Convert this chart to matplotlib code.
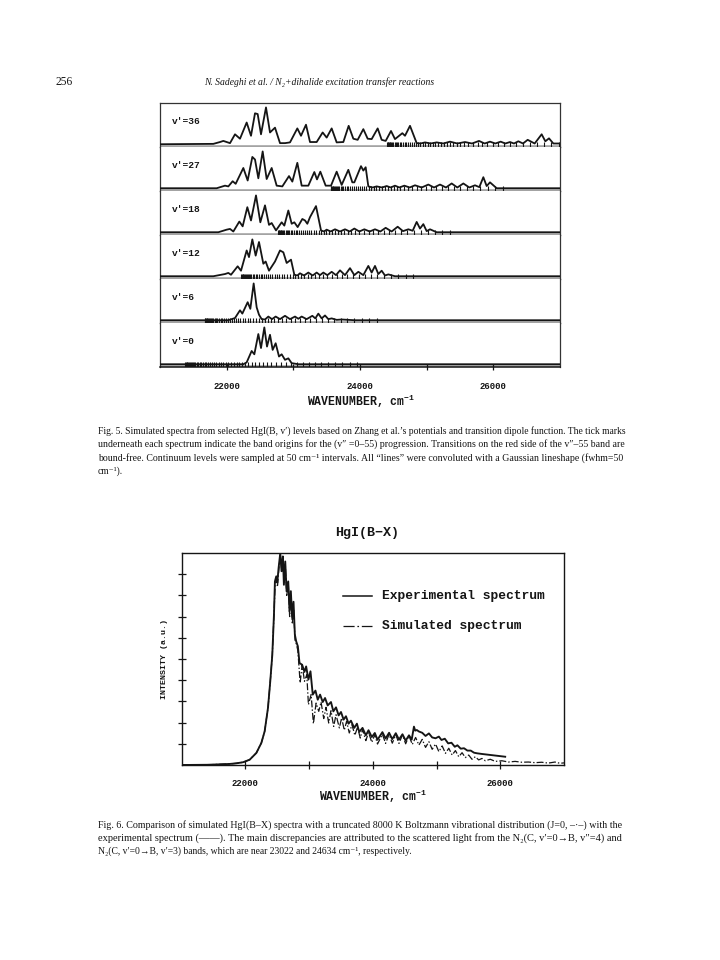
import matplotlib
matplotlib.use("Agg")
import matplotlib.pyplot as plt
from matplotlib.lines import Line2D

# ------------------------------------------------------------------ DATA
# Fig. 5 : simulated spectra (wavenumber cm-1, relative intensity)
panel_labels = ["v'=36", "v'=27", "v'=18", "v'=12", "v'=6", "v'=0"]

v36 = [(21000, 0.0), (21800, 0.01), (21900, 0.06), (21950, 0.09), (22050, 0.03),
       (22125, 0.27), (22200, 0.15), (22300, 0.59), (22365, 0.23), (22425, 0.84),
       (22465, 0.82), (22515, 0.27), (22590, 1.0), (22650, 0.32), (22725, 0.45),
       (22800, 0.03), (22875, 0.03), (22950, 0.05), (23060, 0.43), (23115, 0.23),
       (23190, 0.53), (23250, 0.06), (23350, 0.06), (23440, 0.32), (23500, 0.18),
       (23575, 0.43), (23650, 0.05), (23750, 0.06), (23830, 0.50), (23900, 0.15),
       (23965, 0.12), (24050, 0.41), (24115, 0.15), (24175, 0.14), (24265, 0.43),
       (24325, 0.12), (24385, 0.09), (24465, 0.36), (24525, 0.14), (24635, 0.30),
       (24675, 0.23), (24750, 0.50), (24850, 0.03), (24910, 0.02), (24975, 0.05),
       (25060, 0.02), (25150, 0.05), (25250, 0.02), (25350, 0.07), (25460, 0.02),
       (25575, 0.06), (25680, 0.02), (25785, 0.09), (25870, 0.02), (25950, 0.07),
       (26030, 0.02), (26110, 0.07), (26180, 0.02), (26250, 0.06), (26310, 0.02),
       (26375, 0.08), (26445, 0.02), (26515, 0.12), (26620, 0.02), (26725, 0.27),
       (26780, 0.08), (26835, 0.16), (26900, 0.02), (27000, 0.02)]

v27 = [(21000, 0.0), (21850, 0.0), (21975, 0.07), (22025, 0.05), (22090, 0.19),
       (22135, 0.12), (22250, 0.55), (22315, 0.21), (22385, 0.85), (22425, 0.78),
       (22475, 0.27), (22540, 1.0), (22600, 0.25), (22675, 0.55), (22750, 0.07),
       (22835, 0.05), (22935, 0.33), (22985, 0.18), (23060, 0.69), (23125, 0.07),
       (23225, 0.07), (23315, 0.44), (23355, 0.24), (23405, 0.45), (23485, 0.07),
       (23565, 0.07), (23650, 0.45), (23725, 0.09), (23825, 0.50), (23885, 0.16),
       (23915, 0.16), (24015, 0.60), (24050, 0.48), (24085, 0.57), (24125, 0.05),
       (24190, 0.02), (24250, 0.05), (24330, 0.02), (24400, 0.06), (24460, 0.02),
       (24525, 0.07), (24590, 0.02), (24665, 0.07), (24745, 0.02), (24825, 0.08),
       (24925, 0.02), (25025, 0.10), (25110, 0.02), (25200, 0.10), (25290, 0.02),
       (25375, 0.13), (25460, 0.02), (25550, 0.13), (25640, 0.02), (25725, 0.08),
       (25790, 0.03), (25850, 0.30), (25900, 0.06), (25950, 0.16), (26050, 0.0),
       (27000, 0.0)]

v18 = [(21000, 0.0), (21875, 0.0), (22000, 0.07), (22050, 0.09), (22100, 0.02),
       (22190, 0.29), (22240, 0.16), (22310, 0.68), (22365, 0.32), (22440, 1.0),
       (22505, 0.27), (22575, 0.73), (22635, 0.20), (22675, 0.25), (22740, 0.05),
       (22825, 0.27), (22865, 0.18), (22925, 0.59), (22975, 0.23), (23015, 0.27),
       (23065, 0.14), (23135, 0.36), (23175, 0.32), (23210, 0.23), (23250, 0.41),
       (23340, 0.71), (23415, 0.05), (23460, 0.02), (23500, 0.07), (23560, 0.02),
       (23625, 0.08), (23700, 0.02), (23775, 0.08), (23845, 0.02), (23915, 0.10),
       (23990, 0.02), (24065, 0.08), (24145, 0.02), (24225, 0.08), (24305, 0.02),
       (24385, 0.12), (24475, 0.02), (24565, 0.15), (24645, 0.03), (24725, 0.08),
       (24790, 0.04), (24850, 0.28), (24900, 0.10), (24950, 0.22), (25000, 0.03),
       (25050, 0.08), (25150, 0.0), (27000, 0.0)]

v12 = [(21000, 0.0), (21800, 0.0), (21975, 0.06), (22025, 0.09), (22065, 0.04),
       (22165, 0.27), (22215, 0.15), (22300, 0.70), (22335, 0.52), (22385, 1.0),
       (22435, 0.56), (22485, 0.93), (22550, 0.34), (22585, 0.40), (22635, 0.15),
       (22725, 0.40), (22800, 0.70), (22850, 0.65), (22900, 0.36), (22965, 0.45),
       (23015, 0.04), (23060, 0.02), (23100, 0.08), (23160, 0.02), (23225, 0.10),
       (23290, 0.02), (23350, 0.10), (23400, 0.03), (23450, 0.10), (23510, 0.03),
       (23575, 0.12), (23640, 0.03), (23700, 0.16), (23775, 0.03), (23850, 0.22),
       (23915, 0.03), (23975, 0.12), (24050, 0.03), (24125, 0.28), (24175, 0.10),
       (24225, 0.28), (24275, 0.06), (24325, 0.15), (24375, 0.02), (24425, 0.05),
       (24525, 0.0), (27000, 0.0)]

v6 = [(21000, 0.0), (22025, 0.0), (22125, 0.06), (22200, 0.27), (22235, 0.18),
      (22315, 0.49), (22355, 0.31), (22405, 1.0), (22450, 0.35), (22485, 0.15),
      (22525, 0.03), (22575, 0.02), (22625, 0.10), (22680, 0.03), (22735, 0.10),
      (22800, 0.03), (22875, 0.12), (22950, 0.03), (23025, 0.10), (23075, 0.04),
      (23125, 0.10), (23200, 0.03), (23285, 0.12), (23330, 0.05), (23375, 0.18),
      (23425, 0.05), (23475, 0.13), (23525, 0.03), (23575, 0.05), (23650, 0.01),
      (23725, 0.02), (23925, 0.0), (27000, 0.0)]

v0 = [(21000, 0.0), (22250, 0.0), (22300, 0.05), (22375, 0.36), (22415, 0.27),
      (22475, 0.82), (22515, 0.44), (22565, 1.0), (22605, 0.48), (22650, 0.80),
      (22690, 0.39), (22735, 0.57), (22785, 0.21), (22825, 0.27), (22875, 0.12),
      (22925, 0.16), (22975, 0.03), (23075, 0.0), (27000, 0.0)]

# band origins (v''=0..55): position of v''=0 for each panel and the
# offsets of the successive v'' origins below it (cm-1)
band_origin_v0 = [26985, 26140, 25350, 24800, 24250, 23960]
tick_offsets = [0, 115, 227, 335, 439, 540, 638, 732, 822, 909, 993, 1073, 1149,
                1222, 1292, 1358, 1420, 1479, 1535, 1587, 1635, 1681, 1726, 1770,
                1812, 1854, 1894, 1933, 1971, 2008, 2044, 2079, 2113, 2145, 2177,
                2207, 2236, 2264, 2291, 2317, 2342, 2366, 2388, 2410, 2430, 2449,
                2467, 2484, 2500, 2515, 2528, 2541, 2552, 2562, 2571, 2579]

# Fig. 6 : experimental and simulated HgI(B-X) spectra (cm-1, a.u.)
experimental = [
    (21000, 0.0), (21400, 0.01), (21755, 0.05), (21859, 0.08), (21963, 0.13),
    (22067, 0.25), (22172, 0.57), (22250, 1.04), (22302, 1.59), (22354, 2.69),
    (22390, 3.95), (22422, 5.20), (22448, 7.09), (22463, 8.66), (22484, 8.90),
    (22500, 8.60), (22521, 9.30), (22547, 10.0), (22567, 9.14), (22588, 9.84),
    (22604, 8.50), (22625, 9.60), (22646, 8.20), (22672, 8.66), (22692, 7.25),
    (22713, 8.20), (22734, 6.93), (22755, 7.70), (22776, 6.15), (22797, 5.83),
    (22823, 5.60), (22849, 4.81), (22890, 4.73), (22927, 4.39), (22953, 4.65),
    (22989, 4.03), (23021, 4.42), (23057, 3.32), (23099, 3.51), (23135, 3.08),
    (23172, 3.32), (23213, 2.97), (23250, 3.16), (23291, 2.81), (23343, 2.97),
    (23380, 2.53), (23422, 2.72), (23463, 2.34), (23500, 2.50), (23541, 2.14),
    (23578, 2.30), (23619, 1.95), (23656, 2.09), (23708, 1.75), (23750, 1.95),
    (23786, 1.56), (23838, 1.75), (23890, 1.40), (23932, 1.64), (23984, 1.32),
    (24031, 1.51), (24073, 1.19), (24150, 1.55), (24200, 1.25), (24255, 1.52),
    (24305, 1.22), (24360, 1.50), (24410, 1.20), (24465, 1.45), (24515, 1.15),
    (24567, 1.40), (24610, 1.20), (24645, 1.81), (24665, 1.62), (24690, 1.65),
    (24723, 1.58), (24775, 1.52), (24827, 1.37), (24880, 1.49), (24931, 1.30),
    (24984, 1.26), (25036, 1.34), (25077, 1.18), (25129, 1.24), (25182, 1.02),
    (25234, 1.05), (25286, 0.86), (25327, 0.93), (25379, 0.77), (25431, 0.79),
    (25484, 0.68), (25536, 0.68), (25588, 0.58), (25640, 0.55), (25713, 0.52),
    (26077, 0.39)]

simulated = [
    (21000, 0.0), (21400, 0.01), (21755, 0.05), (21859, 0.08), (21963, 0.13),
    (22067, 0.25), (22172, 0.57), (22250, 1.04), (22302, 1.59), (22354, 2.69),
    (22390, 3.95), (22422, 5.20), (22448, 7.09), (22466, 8.50), (22486, 8.75),
    (22503, 8.40), (22524, 9.20), (22547, 9.90), (22567, 9.30), (22590, 9.60),
    (22606, 8.70), (22627, 9.40), (22648, 8.00), (22674, 8.50), (22694, 7.00),
    (22715, 7.90), (22736, 6.70), (22757, 7.30), (22778, 5.90), (22800, 5.70),
    (22823, 5.40), (22859, 3.87), (22890, 4.73), (22927, 3.95), (22963, 4.26),
    (22989, 2.85), (23031, 3.32), (23067, 1.95), (23109, 2.92), (23151, 2.53),
    (23187, 2.97), (23229, 2.19), (23265, 2.72), (23307, 1.98), (23343, 2.56),
    (23385, 1.82), (23422, 2.37), (23474, 1.75), (23510, 2.22), (23552, 1.64),
    (23588, 2.06), (23630, 1.51), (23672, 1.90), (23718, 1.40), (23760, 1.79),
    (23802, 1.27), (23838, 1.67), (23890, 1.15), (23932, 1.54), (23984, 1.07),
    (24031, 1.43), (24073, 0.99), (24150, 1.45), (24200, 1.02), (24255, 1.45),
    (24305, 1.03), (24360, 1.43), (24410, 1.02), (24465, 1.42), (24515, 1.00),
    (24567, 1.38), (24619, 0.97), (24671, 1.30), (24723, 0.94), (24775, 1.21),
    (24827, 0.83), (24880, 1.10), (24931, 0.74), (24984, 0.99), (25036, 0.63),
    (25088, 0.90), (25140, 0.55), (25192, 0.79), (25244, 0.47), (25296, 0.68),
    (25348, 0.39), (25400, 0.58), (25452, 0.35), (25504, 0.47), (25556, 0.27),
    (25608, 0.39), (25661, 0.24), (25713, 0.31), (25765, 0.20), (25843, 0.27),
    (25921, 0.17), (26025, 0.20), (26129, 0.14), (26233, 0.17), (26338, 0.13),
    (26442, 0.14), (26546, 0.11), (26650, 0.13), (26754, 0.09), (26858, 0.14),
    (26937, 0.08), (27000, 0.10)]

x_ticks = [22000, 23000, 24000, 25000, 26000]
x_ticklabels = ["22000", "", "24000", "", "26000"]
y_ticks = [1, 2, 3, 4, 5, 6, 7, 8, 9]

header_page = "256"
header_title = "N. Sadeghi et al. / N\u2082+dihalide excitation transfer reactions"
fig5_caption = [
    "Fig. 5. Simulated spectra from selected HgI(B, v\u2032) levels based on Zhang et al.\u2019s potentials and transition dipole function. The tick marks",
    "underneath each spectrum indicate the band origins for the (v\u2033 =0\u201355) progression. Transitions on the red side of the v\u2033\u201355 band are",
    "bound-free. Continuum levels were sampled at 50 cm\u207b\u00b9 intervals. All \u201clines\u201d were convoluted with a Gaussian lineshape (fwhm=50",
    "cm\u207b\u00b9).",
]
fig6_caption = [
    "Fig. 6. Comparison of simulated HgI(B\u2013X) spectra with a truncated 8000 K Boltzmann vibrational distribution (J=0, \u2013\u00b7\u2013) with the",
    "experimental spectrum (\u2014\u2014). The main discrepancies are attributed to the scattered light from the N\u2082(C, v\u2032=0\u2192B, v\u2033=4) and",
    "N\u2082(C, v\u2032=0\u2192B, v\u2032=3) bands, which are near 23022 and 24634 cm\u207b\u00b9, respectively.",
]

# ------------------------------------------------------------------ STYLE
W, H = 720, 960
INK = "#151515"
MONO = ["Liberation Mono", "DejaVu Sans Mono"]
SERIF = ["Liberation Serif", "DejaVu Serif"]
plt.rcParams["mathtext.fontset"] = "custom"
plt.rcParams["mathtext.rm"] = "Liberation Mono:bold"
plt.rcParams["mathtext.it"] = "Liberation Mono:bold"
plt.rcParams["mathtext.bf"] = "Liberation Mono:bold"
plt.rcParams["lines.scale_dashes"] = False

fig = plt.figure(figsize=(7.2, 9.6), dpi=100)
fig.patch.set_facecolor("white")
renderer = fig.canvas.get_renderer()


def rect(left, top, right, bottom):
    return [left / W, 1 - bottom / H, (right - left) / W, (bottom - top) / H]


def ftext(px, py, s, **kw):
    return fig.text(px / W, 1 - py / H, s, **kw)


def width_of(s, **kw):
    t = fig.text(0.1, 0.5, s, **kw)
    w = t.get_window_extent(renderer).width
    t.remove()
    return w


def fit_size(s, target, **kw):
    return 10 * target / width_of(s, fontsize=10, **kw)


def caption(lines, x0, x1, ys, base, **kw):
    # each line is one text; full lines are sized to span the column (justified look)
    for k, (s, y) in enumerate(zip(lines, ys)):
        size = base
        if k < len(lines) - 1:
            size = min(base * 1.08, max(base * 0.94, fit_size(s, x1 - x0, **kw)))
        ftext(x0, y, s, fontsize=size, va="center", ha="left", color=INK, **kw)


# ------------------------------------------------------------------ HEADER
ftext(55, 82, header_page, family=SERIF, fontsize=8.3, va="center", ha="left", color=INK)
hs = fit_size(header_title, 232, family=SERIF, style="italic")
ftext(319, 82, header_title, family=SERIF, style="italic", fontsize=hs,
      va="center", ha="center", color=INK)

# ------------------------------------------------------------------ FIG. 5
P_LEFT, P_RIGHT, P_TOP, P_H = 160, 560, 103, 44
spectra = [v36, v27, v18, v12, v6, v0]
n = len(spectra)
for i, (lab, spec, org) in enumerate(zip(panel_labels, spectra, band_origin_v0)):
    top = P_TOP + i * P_H
    ax = fig.add_axes(rect(P_LEFT, top, P_RIGHT, top + P_H))
    ax.set_xlim(21000, 27000)
    ax.set_ylim(-0.075, 1.12)
    ax.axhspan(-0.075, -0.03, color="#b5b5b5", lw=0, zorder=0)
    ax.plot([p[0] for p in spec], [p[1] for p in spec], color=INK, lw=1.3, zorder=3)
    ticks = [org - o for o in tick_offsets if 21000 <= org - o <= 27000]
    ax.vlines(ticks, -0.075, 0.05, color=INK, lw=0.8, zorder=2)
    ax.text(0.029, 0.585, lab, transform=ax.transAxes, family=MONO, weight="bold",
            fontsize=6.8, color=INK, va="center", ha="left")
    for side in ("left", "right"):
        ax.spines[side].set_color("#333333")
        ax.spines[side].set_linewidth(0.9)
    ax.spines["top"].set_visible(i == 0)
    ax.spines["top"].set_color("#333333")
    ax.spines["top"].set_linewidth(0.9)
    ax.spines["bottom"].set_color("#2a2a2a" if i < n - 1 else INK)
    ax.spines["bottom"].set_linewidth(0.9 if i < n - 1 else 1.1)
    ax.set_yticks([])
    if i < n - 1:
        ax.set_xticks([])
    else:
        ax.set_xticks(x_ticks, x_ticklabels, family=MONO, weight="bold",
                      fontsize=6.5, color=INK)
        ax.tick_params(axis="x", direction="inout", length=5, width=0.9,
                       color=INK, pad=8.5)
ftext(361, 401, r"WAVENUMBER, cm$^{-1}$", family=MONO, weight="bold", fontsize=8.3,
      va="center", ha="center", color=INK)

cap_size = fit_size(fig5_caption[0], 524, family=SERIF)
caption(fig5_caption, 98, 622, [431, 444.5, 458, 471.5], cap_size, family=SERIF)

# ------------------------------------------------------------------ FIG. 6
ftext(367, 533, "HgI(B\u2212X)", family=MONO, weight="bold", fontsize=9.6,
      va="center", ha="center", color=INK)
ax2 = fig.add_axes(rect(181.7, 553, 564, 765))
ax2.set_xlim(21000, 27000)
ax2.set_ylim(0, 10)
ax2.plot([p[0] for p in experimental], [p[1] for p in experimental],
         color=INK, lw=1.35, zorder=3)
ax2.plot([p[0] for p in simulated], [p[1] for p in simulated],
         color=INK, lw=0.9, ls=(0, (5, 1.5, 1, 1.5)), zorder=2)
ax2.set_xticks(x_ticks, x_ticklabels, family=MONO, weight="bold", fontsize=6.5, color=INK)
ax2.set_yticks(y_ticks, [""] * len(y_ticks))
ax2.tick_params(direction="inout", length=6, width=0.9, color=INK)
ax2.tick_params(axis="x", pad=7)
for s in ax2.spines.values():
    s.set_color(INK)
    s.set_linewidth(1.0)

fig.add_artist(Line2D([343 / W, 372 / W], [1 - 596 / H] * 2, transform=fig.transFigure,
                      color=INK, lw=1.1))
fig.add_artist(Line2D([343 / W, 372 / W], [1 - 626 / H] * 2, transform=fig.transFigure,
                      color=INK, lw=0.9, ls=(0, (8, 2, 1.2, 2))))
ftext(381.7, 596, "Experimental spectrum", family=MONO, weight="bold", fontsize=9.4,
      va="center", ha="left", color=INK)
ftext(381.7, 626, "Simulated spectrum", family=MONO, weight="bold", fontsize=9.4,
      va="center", ha="left", color=INK)
ftext(165, 659, "INTENSITY (a.u.)", family=MONO, weight="bold", fontsize=6.0,
      rotation=90, va="center", ha="center", color=INK)
ftext(373, 796, r"WAVENUMBER, cm$^{-1}$", family=MONO, weight="bold", fontsize=8.3,
      va="center", ha="center", color=INK)

caption(fig6_caption, 98, 622, [825, 838, 851], cap_size, family=SERIF)

fig.savefig("out.png", dpi=100, facecolor="white")
